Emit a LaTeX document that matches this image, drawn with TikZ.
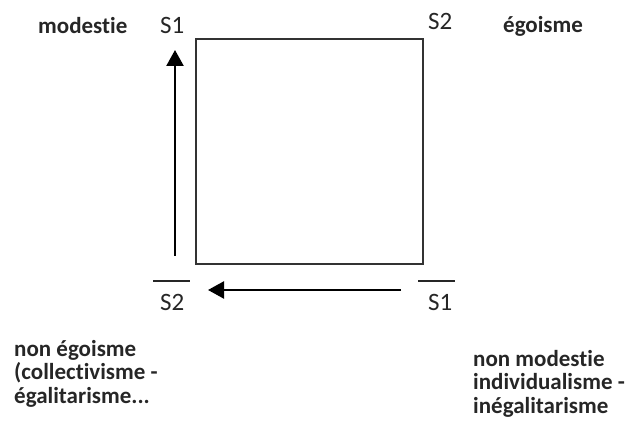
\documentclass[tikz,border=0pt]{standalone}
\usepackage{fontspec}
\setmainfont{Carlito}[Ligatures=NoCommon]
\usetikzlibrary{arrows.meta}
\tikzset{
  word/.style={anchor=base west, inner sep=0pt, font=\fontsize{23}{23.5}\selectfont\bfseries, text=black!85},
  sym/.style={anchor=base west, inner sep=0pt, font=\fontsize{25}{25}\selectfont, text=black!85},
  multi/.style={word, align=left, anchor=north west},
  box/.style={draw=black!80, line width=1.6pt},
  bar/.style={draw=black!85, line width=1.3pt},
  arr/.style={draw=black, line width=2.4pt, -{Triangle[length=16pt,width=17pt]}}
}
\begin{document}
\begin{tikzpicture}[x=1pt,y=-1pt]
\useasboundingbox (0,0) rectangle (630,435);
% square
\draw[box] (196,39) rectangle (423,264);
% top labels
\node[word] (mod) at (38,34) {modestie};
\node[sym] (s1) at (160,34) {S1};
\node[sym] (s2) at (428,30) {S2};
\node[word] (ego) at (503,33) {égoisme};
% bottom symbols
\node[sym] (ns2) at (160,311) {S2};
\node[sym] (ns1) at (428,311) {S1};
\draw[bar] (153,281) -- (190,281);
\draw[bar] (418,281) -- (455,281);
% arrows
\coordinate (vstart) at (175,256);
\coordinate (vend) at (175,50);
\coordinate (hstart) at (401,290);
\coordinate (hend) at (208,290);
\draw[arr] (vstart) -- (vend);
\draw[arr] (hstart) -- (hend);
% bottom texts
\node[multi] (bl) at (14,340) {non égoisme\\(collectivisme -\\égalitarisme...};
\node[multi] (br) at (473,350) {non modestie\\individualisme -\\inégalitarisme};
\end{tikzpicture}
\end{document}
